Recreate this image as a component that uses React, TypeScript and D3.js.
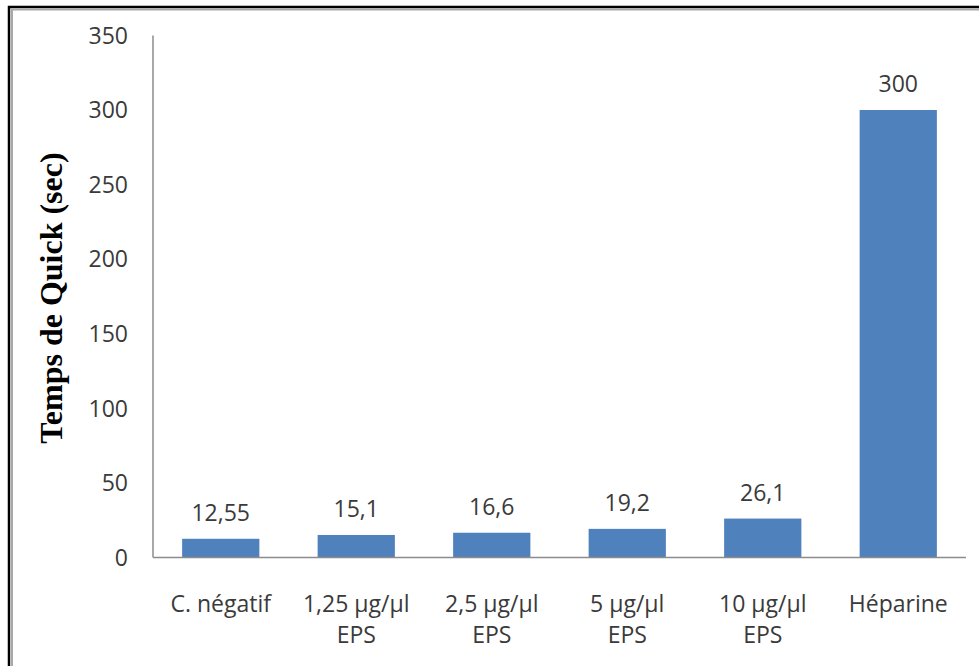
import React from "react";
import * as d3 from "d3";

const categories: string[][] = [
  ["C. négatif"],
  ["1,25 μg/μl", "EPS"],
  ["2,5 μg/μl", "EPS"],
  ["5 μg/μl", "EPS"],
  ["10 μg/μl", "EPS"],
  ["Héparine"],
];
const values: number[] = [12.55, 15.1, 16.6, 19.2, 26.1, 300];
const valueLabels: string[] = ["12,55", "15,1", "16,6", "19,2", "26,1", "300"];
const yTicks: number[] = [0, 50, 100, 150, 200, 250, 300, 350];
const yTitle = "Temps de Quick (sec)";

const W = 979;
const H = 666;
const left = 153;
const right = 966;
const top = 35.4;
const bottom = 557.5;
const font = "'Open Sans', sans-serif";
const textColor = "#3a3a3a";

export default function App() {
  const x = d3
    .scaleBand<number>()
    .domain(d3.range(values.length))
    .range([left, right])
    .paddingInner(0.43)
    .paddingOuter(0.215);
  const y = d3.scaleLinear().domain([0, 350]).range([bottom, top]);

  return (
    <svg
      width={W}
      height={H}
      style={{ position: "fixed", left: 0, top: 0, display: "block", background: "#fff" }}
    >
      <rect x={0} y={0} width={W} height={H} fill="#fff" />
      {/* frame */}
      <rect x={9} y={7} width={1000} height={700} fill="none" stroke="#000" strokeWidth={2.5} />
      <rect x={12} y={9.5} width={1000} height={700} fill="none" stroke="#a8a8a8" strokeWidth={2} />

      {/* y tick labels */}
      {yTicks.map((t) => (
        <text
          key={t}
          x={128}
          y={y(t)}
          dy="0.36em"
          textAnchor="end"
          fontFamily={font}
          fontSize={23}
          fill={textColor}
        >
          {t}
        </text>
      ))}

      {/* bars */}
      {values.map((v, i) => (
        <rect
          key={i}
          x={x(i)}
          y={y(v)}
          width={x.bandwidth()}
          height={y(0) - y(v)}
          fill="#4f81bd"
        />
      ))}

      {/* value labels */}
      {values.map((v, i) => (
        <text
          key={i}
          x={(x(i) as number) + x.bandwidth() / 2}
          y={y(v) - 18}
          textAnchor="middle"
          fontFamily={font}
          fontSize={23}
          fill={textColor}
        >
          {valueLabels[i]}
        </text>
      ))}

      {/* axes */}
      <line x1={left} x2={left} y1={top} y2={bottom} stroke="#8c8c8c" strokeWidth={1.5} />
      <line x1={left} x2={right} y1={bottom} y2={bottom} stroke="#8c8c8c" strokeWidth={1.5} />

      {/* category labels */}
      {categories.map((lines, i) => (
        <text
          key={i}
          textAnchor="middle"
          fontFamily={font}
          fontSize={23}
          fill={textColor}
        >
          {lines.map((l, j) => (
            <tspan key={j} x={(x(i) as number) + x.bandwidth() / 2} y={612 + j * 31}>
              {l}
            </tspan>
          ))}
        </text>
      ))}

      {/* y title */}
      <text
        transform={`translate(62, 298) rotate(-90)`}
        textAnchor="middle"
        fontFamily="'Liberation Serif', 'Times New Roman', serif"
        fontWeight="bold"
        fontSize={32}
        fill="#000"
      >
        {yTitle}
      </text>
    </svg>
  );
}
